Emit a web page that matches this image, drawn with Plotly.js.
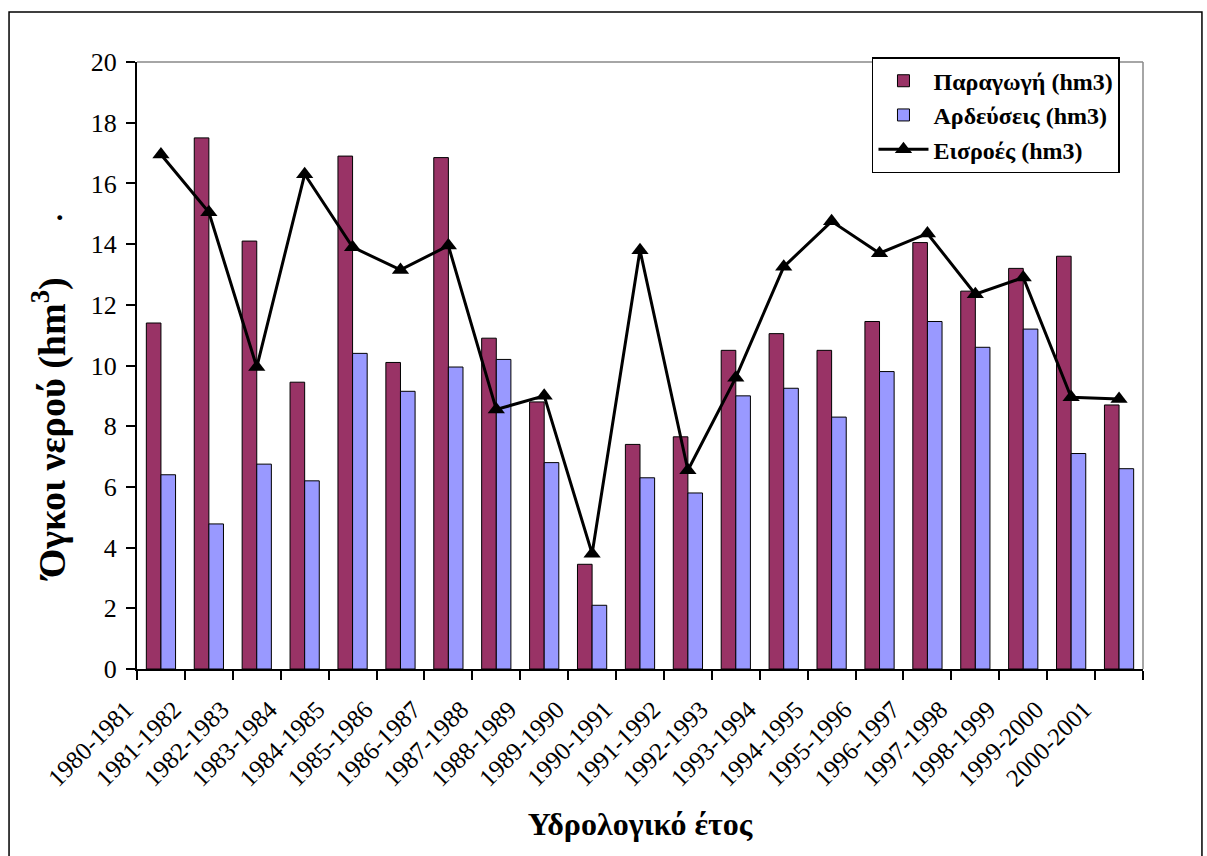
<!DOCTYPE html>
<html>
<head>
<meta charset="utf-8">
<script src="https://cdn.plot.ly/plotly-3.0.1.min.js"></script>
<style>
  body { margin: 0; background: white; }
  #myDiv { width: 1207px; height: 856px; }
</style>
</head>
<body>
<div id="myDiv"></div>
<script>
'use strict';
var years = ['1980-1981', '1981-1982', '1982-1983', '1983-1984', '1984-1985', '1985-1986',
  '1986-1987', '1987-1988', '1988-1989', '1989-1990', '1990-1991', '1991-1992', '1992-1993',
  '1993-1994', '1994-1995', '1995-1996', '1996-1997', '1997-1998', '1998-1999', '1999-2000',
  '2000-2001'];
var paragogi = [11.4, 17.5, 14.1, 9.45, 16.9, 10.1, 16.85, 10.9, 8.8, 3.45, 7.4, 7.65, 10.5,
  11.05, 10.5, 11.45, 14.05, 12.45, 13.2, 13.6, 8.7];
var ardeuseis = [6.4, 4.78, 6.75, 6.2, 10.4, 9.15, 9.95, 10.2, 6.8, 2.1, 6.3, 5.8, 9.0,
  9.25, 8.3, 9.8, 11.45, 10.6, 11.2, 7.1, 6.6];
var eisroes = [16.95, 15.05, 9.95, 16.3, 13.9, 13.15, 13.95, 8.55, 9.0, 3.8, 13.8, 6.55, 9.6,
  13.25, 14.75, 13.7, 14.35, 12.35, 12.9, 8.95, 8.9];
var yTicks = [0, 2, 4, 6, 8, 10, 12, 14, 16, 18, 20];

var serif = 'Liberation Serif';

var trace1 = {
  type: 'bar',
  name: 'Παραγωγή (hm3)',
  x: years,
  y: paragogi,
  marker: { color: '#993366', line: { color: 'black', width: 1 } }
};
var trace2 = {
  type: 'bar',
  name: 'Αρδεύσεις (hm3)',
  x: years,
  y: ardeuseis,
  marker: { color: '#9999FF', line: { color: 'black', width: 1 } }
};
var trace3 = {
  type: 'scatter',
  mode: 'lines+markers',
  name: 'Εισροές (hm3)',
  x: years,
  y: eisroes,
  line: { color: 'black', width: 3 },
  marker: { color: 'black', symbol: 'triangle-up', size: 15 }
};

var data = [trace1, trace2, trace3];

var layout = {
  width: 1207,
  height: 856,
  margin: { l: 137, r: 64, t: 62, b: 187 },
  paper_bgcolor: 'white',
  plot_bgcolor: 'white',
  barmode: 'group',
  bargap: 0.39,
  bargroupgap: 0,
  font: { family: serif, color: 'black', size: 24 },
  showlegend: true,
  legend: {
    x: 0.7306, y: 1.008, xanchor: 'left', yanchor: 'top',
    bgcolor: 'white', bordercolor: 'black', borderwidth: 1.5,
    font: { family: serif, size: 24, color: 'black', weight: 'bold' },
    itemwidth: 50,
    tracegroupgap: 0
  },
  xaxis: {
    type: 'category',
    range: [-0.5, 20.5],
    autorange: false,
    tickson: 'boundaries',
    ticks: 'outside',
    ticklen: 9,
    tickwidth: 1.5,
    tickcolor: 'black',
    tickangle: -45,
    ticklabelshift: -35,
    ticklabelstandoff: 14,
    tickfont: { family: serif, size: 25, color: 'black' },
    showline: true,
    linecolor: 'black',
    linewidth: 2,
    showgrid: false,
    zeroline: false,
    automargin: false,
    title: { text: 'Υδρολογικό έτος', font: { family: serif, size: 32, weight: 'bold', color: 'black' }, standoff: 22 }
  },
  yaxis: {
    range: [0, 20],
    autorange: false,
    tickvals: yTicks,
    ticks: 'outside',
    ticklen: 9,
    tickwidth: 1.5,
    tickcolor: 'black',
    ticklabelstandoff: 4,
    tickfont: { family: serif, size: 26, color: 'black' },
    showline: true,
    linecolor: 'black',
    linewidth: 2,
    showgrid: false,
    zeroline: false,
    automargin: false
  },
  shapes: [
    { type: 'line', xref: 'paper', yref: 'paper', x0: 0, x1: 1, y0: 1, y1: 1,
      line: { color: '#888888', width: 1.5 } },
    { type: 'line', xref: 'paper', yref: 'paper', x0: 1, x1: 1, y0: 0, y1: 1,
      line: { color: '#888888', width: 1.5 } },
    { type: 'rect', xref: 'paper', yref: 'paper', x0: -0.1272, x1: 1.0586, y0: -0.33, y1: 1.0824,
      line: { color: 'black', width: 1.5 } }
  ],
  annotations: [
    { xref: 'paper', yref: 'paper', x: -0.0875, y: 0.395, xanchor: 'center', yanchor: 'middle',
      text: 'Όγκοι νερού (hm<sup>3</sup>)', textangle: -90, showarrow: false,
      font: { family: serif, size: 38, weight: 'bold', color: 'black' } },
    { xref: 'paper', yref: 'paper', x: -0.083, y: 0.7446, text: '.', showarrow: false,
      font: { family: serif, size: 30, weight: 'bold', color: 'black' }, yshift: 26 }
  ]
};

Plotly.newPlot('myDiv', data, layout, { displayModeBar: false });
</script>
</body>
</html>
